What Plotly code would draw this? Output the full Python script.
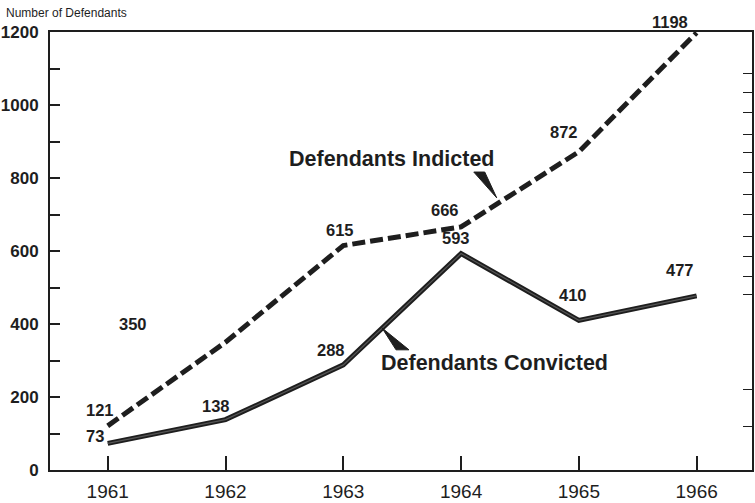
import plotly.graph_objects as go

years = [1961, 1962, 1963, 1964, 1965, 1966]
indicted = [121, 350, 615, 666, 872, 1198]
convicted = [73, 138, 288, 593, 410, 477]
y_tick_vals = [0, 200, 400, 600, 800, 1000, 1200]
y_tick_text = ["0", "200", "400", "600", "800", "1000", "1200"]
x_tick_text = ["1961", "1962", "1963", "1964", "1965", "1966"]

W, H = 755, 503
L, R, T, B = 50, 1, 32, 30
PW, PH = W - L - R, H - T - B

def px(x):
    return (x - L) / PW

def py(y):
    return (H - B - y) / PH

INK = "#1e1e1e"
FONT = "Liberation Sans, Arial, sans-serif"

fig = go.Figure()
fig.add_trace(go.Scatter(x=years, y=indicted, mode="lines",
                         line=dict(color=INK, width=5, dash="13px,5px"),
                         hoverinfo="skip", showlegend=False))
fig.add_trace(go.Scatter(x=years, y=convicted, mode="lines",
                         line=dict(color=INK, width=5),
                         hoverinfo="skip", showlegend=False))
fig.add_trace(go.Scatter(x=years, y=convicted, mode="lines",
                         line=dict(color="#555", width=1.2),
                         hoverinfo="skip", showlegend=False))

# value labels (pixel offsets relative to each point)
ind_off = [(-8, 16), (-93, 18), (-3, 16), (-16, 17), (-15, 20), (-27, 11)]
con_off = [(-13, 7), (-10, 14), (-12, 15), (-5, 16), (-6, 25), (-17, 26)]
for yr, v, (dx, dy) in zip(years, indicted, ind_off):
    fig.add_annotation(x=yr, y=v, text=str(v), showarrow=False, xshift=dx, yshift=dy,
                       font=dict(family=FONT, size=16.5, color=INK, weight="bold"))
for yr, v, (dx, dy) in zip(years, convicted, con_off):
    fig.add_annotation(x=yr, y=v, text=str(v), showarrow=False, xshift=dx, yshift=dy,
                       font=dict(family=FONT, size=16.5, color=INK, weight="bold"))

# series names
fig.add_annotation(xref="paper", yref="paper", x=px(392), y=py(160), text="Defendants Indicted",
                   xanchor="center", yanchor="middle",
                   showarrow=False, font=dict(family=FONT, size=21.5, color=INK, weight="bold"))
fig.add_annotation(xref="paper", yref="paper", x=px(496), y=py(365), text="Defendants Convicted",
                   xanchor="center", yanchor="middle",
                   showarrow=False, font=dict(family=FONT, size=21.5, color=INK, weight="bold"))

def tri(pts):
    p = "M " + " L ".join(f"{px(a):.5f},{py(b):.5f}" for a, b in pts) + " Z"
    return dict(type="path", xref="paper", yref="paper", path=p,
                fillcolor=INK, line=dict(color=INK, width=1))

fig.add_shape(**tri([(475, 173), (486, 173), (498, 199)]))
fig.add_shape(**tri([(383, 330), (397, 352), (410, 352)]))

# title
fig.add_annotation(xref="paper", yref="paper", x=px(4), y=py(13), xanchor="left", yanchor="middle",
                   text="Number of Defendants", showarrow=False,
                   font=dict(family=FONT, size=12, color=INK))

fig.update_layout(
    width=W, height=H,
    margin=dict(l=L, r=R, t=T, b=B),
    paper_bgcolor="white", plot_bgcolor="white",
    xaxis=dict(range=[1960.51, 1966.47], tickvals=years, ticktext=x_tick_text,
               ticks="inside", ticklen=14, tickwidth=1.5, tickcolor=INK,
               showline=True, linewidth=2, linecolor=INK, mirror=True,
               showgrid=False, zeroline=False, ticklabelstandoff=3,
               tickfont=dict(family=FONT, size=19, color=INK)),
    yaxis=dict(range=[0, 1200], tickvals=y_tick_vals, ticktext=y_tick_text,
               ticks="inside", ticklen=10, tickwidth=1.5, tickcolor=INK,
               minor=dict(dtick=100, tick0=0, ticks="inside", ticklen=10, tickwidth=1.5, tickcolor=INK),
               showline=True, linewidth=2, linecolor=INK, mirror=True,
               showgrid=False, zeroline=False, ticklabelstandoff=6,
               tickfont=dict(family=FONT, size=17, color=INK, weight="bold")),
    yaxis2=dict(range=[0, 1200], overlaying="y", side="right",
                tickvals=[120, 220, 480, 530, 585, 640, 700, 755, 815, 870, 920, 980, 1035, 1085],
                showticklabels=False, ticks="inside", ticklen=9, tickwidth=1.2, tickcolor=INK,
                showgrid=False, zeroline=False, showline=False),
)
fig.add_trace(go.Scatter(x=[1961], y=[0], yaxis="y2", mode="markers",
                         marker=dict(opacity=0), hoverinfo="skip", showlegend=False))

fig.write_html("out.html", config={"displayModeBar": False},
               post_script="document.body.style.margin='0px';document.body.style.overflow='hidden';")
